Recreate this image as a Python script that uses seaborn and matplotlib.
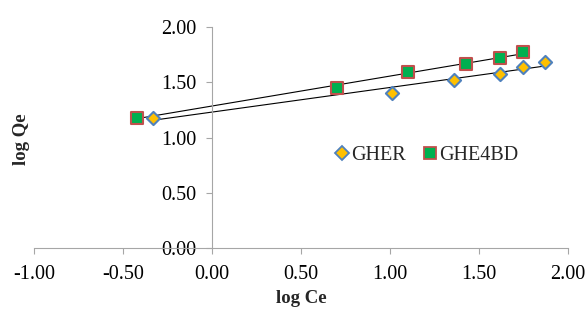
import numpy as np
import pandas as pd
import matplotlib.pyplot as plt
import seaborn as sns
from matplotlib.lines import Line2D

# data
gher_x = [-0.33, 1.01, 1.36, 1.62, 1.75, 1.87]
gher_y = [1.18, 1.40, 1.52, 1.57, 1.64, 1.68]
ghe4bd_x = [-0.42, 0.70, 1.10, 1.43, 1.62, 1.75]
ghe4bd_y = [1.18, 1.45, 1.59, 1.66, 1.72, 1.77]

x_ticks = [-1.0, -0.5, 0.0, 0.5, 1.0, 1.5, 2.0]
y_ticks = [0.0, 0.5, 1.0, 1.5, 2.0]

sns.set_style("white")
plt.rcParams['font.family'] = ['Liberation Serif', 'DejaVu Serif']

fig = plt.figure(figsize=(5.86, 3.09), dpi=100)
ax = fig.add_axes([0.058, 0.196, 0.911, 0.718])

# axes cross at zero (set first, it resets the tick styling)
ax.spines['left'].set_position(('data', 0))
ax.spines['top'].set_visible(False)
ax.spines['right'].set_visible(False)

df_a = pd.DataFrame({'x': gher_x, 'y': gher_y})
df_b = pd.DataFrame({'x': ghe4bd_x, 'y': ghe4bd_y})

# trend lines
for d in (df_a, df_b):
    sns.regplot(data=d, x='x', y='y', scatter=False, ci=None, truncate=True,
                line_kws={'color': 'black', 'lw': 0.8}, ax=ax)

sns.scatterplot(data=df_a, x='x', y='y', marker='D', s=45, color='#FFC000',
                edgecolor='#4F81BD', linewidth=1.5, ax=ax, zorder=3)
sns.scatterplot(data=df_b, x='x', y='y', marker='s', s=75, color='#00B050',
                edgecolor='#C0504D', linewidth=1.5, ax=ax, zorder=3)

ax.set_xlim(-1, 2)
ax.set_ylim(0, 2)
ax.set_xticks(x_ticks)
ax.set_yticks(y_ticks)
ax.set_xticklabels([f'{t:.2f}' for t in x_ticks])
ax.set_yticklabels([f'{t:.2f}' for t in y_ticks])

for s in ('left', 'bottom'):
    ax.spines[s].set_color('#A6A6A6')
    ax.spines[s].set_linewidth(0.8)
ax.tick_params(axis='both', direction='out', length=4, width=0.8,
               color='#A6A6A6', labelsize=14.5, labelcolor='black',
               bottom=True, left=True)
ax.tick_params(axis='y', pad=7)
ax.tick_params(axis='x', pad=8)

ax.set_xlabel('log Ce', fontsize=13.5, fontweight='bold', labelpad=4.5)
ax.set_ylabel('')
fig.text(0.036, 0.55, 'log Qe', fontsize=13.5, fontweight='bold',
         rotation=90, ha='center', va='center')

handles = [
    Line2D([], [], ls='', marker='D', ms=7, mfc='#FFC000', mec='#4F81BD', mew=1.3, label='GHER'),
    Line2D([], [], ls='', marker='s', ms=9, mfc='#00B050', mec='#C0504D', mew=1.3, label='GHE4BD'),
]
ax.legend(handles=handles, loc='center', bbox_to_anchor=(0.736, 0.418), ncol=2,
          frameon=False, fontsize=14.5, handlelength=0.6, handletextpad=0.15,
          columnspacing=0.9, borderpad=0, borderaxespad=0)

fig.savefig('out.png', dpi=100, facecolor='white')
